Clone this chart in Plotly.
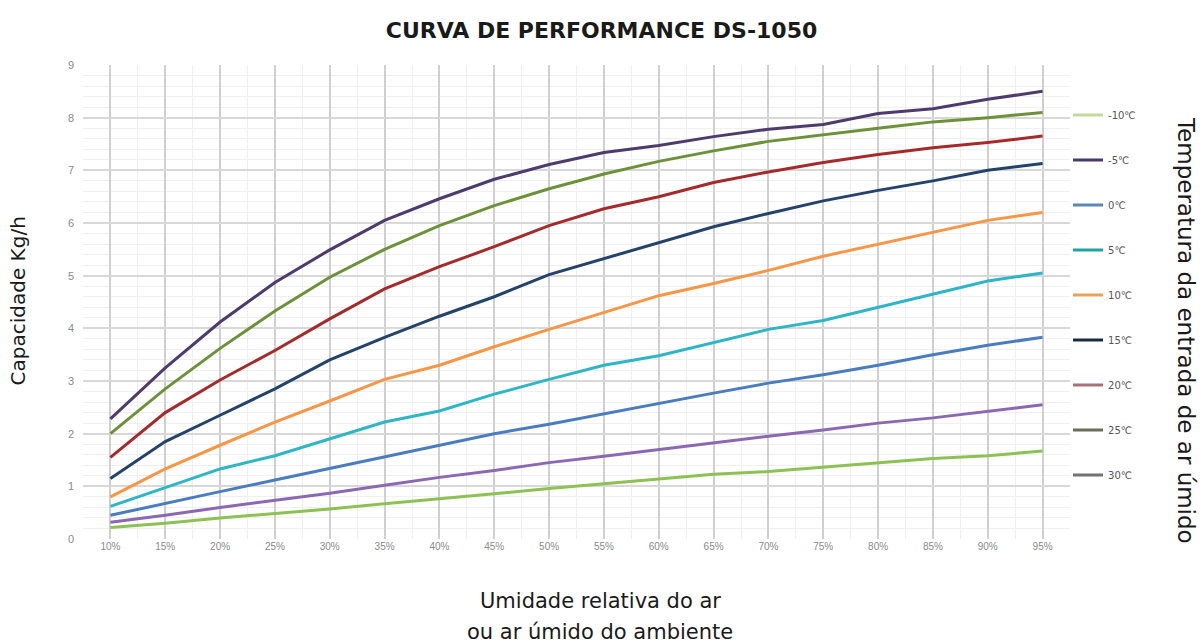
import plotly.graph_objects as go

umidade = [10, 15, 20, 25, 30, 35, 40, 45, 50, 55, 60, 65, 70, 75, 80, 85, 90, 95]
tick_labels = [f"{u}%" for u in umidade]

temperaturas = ["-10℃", "-5℃", "0℃", "5℃", "10℃", "15℃", "20℃", "25℃", "30℃"]

cap_m10 = [0.22, 0.30, 0.40, 0.48, 0.57, 0.67, 0.76, 0.86, 0.96, 1.05, 1.15, 1.23, 1.28, 1.36, 1.45, 1.53, 1.58, 1.67]
cap_m5 = [0.32, 0.45, 0.60, 0.73, 0.87, 1.02, 1.17, 1.30, 1.45, 1.57, 1.70, 1.82, 1.95, 2.07, 2.20, 2.30, 2.42, 2.55]
cap_0 = [0.45, 0.68, 0.90, 1.12, 1.34, 1.55, 1.77, 2.00, 2.18, 2.38, 2.57, 2.77, 2.96, 3.12, 3.30, 3.50, 3.68, 3.83]
cap_5 = [0.62, 0.97, 1.33, 1.58, 1.90, 2.22, 2.43, 2.75, 3.03, 3.30, 3.48, 3.73, 3.98, 4.15, 4.40, 4.65, 4.90, 5.05]
cap_10 = [0.80, 1.33, 1.78, 2.22, 2.62, 3.03, 3.30, 3.65, 3.98, 4.30, 4.62, 4.85, 5.10, 5.37, 5.60, 5.82, 6.05, 6.20]
cap_15 = [1.15, 1.85, 2.35, 2.85, 3.40, 3.83, 4.23, 4.60, 5.02, 5.32, 5.62, 5.93, 6.18, 6.42, 6.62, 6.80, 7.00, 7.13]
cap_20 = [1.55, 2.40, 3.02, 3.58, 4.18, 4.75, 5.17, 5.55, 5.95, 6.27, 6.50, 6.77, 6.97, 7.15, 7.30, 7.43, 7.53, 7.65]
cap_25 = [2.00, 2.85, 3.62, 4.33, 4.97, 5.50, 5.95, 6.33, 6.65, 6.93, 7.17, 7.37, 7.55, 7.68, 7.80, 7.92, 8.00, 8.10]
cap_30 = [2.28, 3.25, 4.12, 4.87, 5.49, 6.05, 6.46, 6.83, 7.11, 7.34, 7.47, 7.64, 7.78, 7.87, 8.08, 8.17, 8.35, 8.50]

series = [cap_m10, cap_m5, cap_0, cap_5, cap_10, cap_15, cap_20, cap_25, cap_30]
line_colors = ["#8dc154", "#8c68b2", "#4a7dbf", "#2fb6c6", "#f79646",
               "#24436b", "#a52b2b", "#6c9139", "#4d3b6e"]
legend_colors = ["#c6d99c", "#4a3b6f", "#5b87b6", "#1fa3a3", "#e9a15c",
                 "#1b2c42", "#a5727b", "#6a6f57", "#737373"]

fig = go.Figure()
for vals, col in zip(series, line_colors):
    fig.add_trace(go.Scatter(x=umidade, y=vals, mode="lines",
                             line=dict(color=col, width=3),
                             showlegend=False, hoverinfo="skip"))

for i, (name, col) in enumerate(zip(temperaturas, legend_colors)):
    fig.add_trace(go.Scatter(x=[None], y=[None], mode="lines", name=name,
                             legendgroup=f"g{i}",
                             line=dict(color=col, width=3)))

font_main = "DejaVu Sans"

fig.update_layout(
    width=1203, height=644,
    paper_bgcolor="white", plot_bgcolor="white",
    margin=dict(l=83, r=133, t=65, b=105, autoexpand=False),
    title=dict(text="<b>CURVA DE PERFORMANCE DS-1050</b>",
               x=0.5, xanchor="center", y=0.953, yanchor="middle",
               font=dict(family="DejaVu Sans", size=22, color="#1a1a1a")),
    xaxis=dict(range=[7.5, 97.5], tickmode="array", tickvals=umidade,
               ticktext=tick_labels, showgrid=True, gridcolor="#d0d0d0",
               gridwidth=1.5, zeroline=False, showline=False, automargin=False,
               tickfont=dict(family="Liberation Sans Narrow, Liberation Sans", size=10, color="#8a8a8a"),
               ticks="", ticklen=0,
               minor=dict(dtick=2.5, tick0=10, showgrid=True, gridcolor="#efefef", gridwidth=1),
               fixedrange=True),
    yaxis=dict(range=[0, 9], dtick=1, tick0=0, showgrid=True, gridcolor="#d8d8d8",
               gridwidth=1.5, zeroline=False, showline=False, automargin=False,
               tickfont=dict(family="Liberation Sans", size=11, color="#8a8a8a"),
               ticks="", ticklabelstandoff=8,
               minor=dict(dtick=0.2, tick0=0, showgrid=True, gridcolor="#f0f0f0", gridwidth=1),
               fixedrange=True),
    legend=dict(x=0.998, xanchor="left", y=0.925, yanchor="top",
                font=dict(family=font_main, size=10, color="#555555"),
                tracegroupgap=26, itemwidth=30, bgcolor="rgba(0,0,0,0)"),
    showlegend=True,
)

fig.add_annotation(text="Capacidade Kg/h", xref="paper", yref="paper",
                   x=-0.066, y=0.503, xanchor="center", yanchor="middle",
                   textangle=-90, showarrow=False,
                   font=dict(family=font_main, size=20, color="#1a1a1a"))
fig.add_annotation(text="Temperatura da entrada de ar úmido", xref="paper", yref="paper",
                   x=1.117, y=0.44, xanchor="center", yanchor="middle",
                   textangle=90, showarrow=False,
                   font=dict(family=font_main, size=23, color="#1a1a1a"))
fig.add_annotation(text="Umidade relativa do ar",
                   xref="paper", yref="paper", x=0.524, y=-0.131,
                   xanchor="center", yanchor="middle", showarrow=False,
                   font=dict(family=font_main, size=21, color="#1a1a1a"))
fig.add_annotation(text="ou ar úmido do ambiente",
                   xref="paper", yref="paper", x=0.524, y=-0.196,
                   xanchor="center", yanchor="middle", showarrow=False,
                   font=dict(family=font_main, size=21, color="#1a1a1a"))

fig.write_html("out.html", config={"displayModeBar": False},
               post_script="document.body.style.margin='0px';")
